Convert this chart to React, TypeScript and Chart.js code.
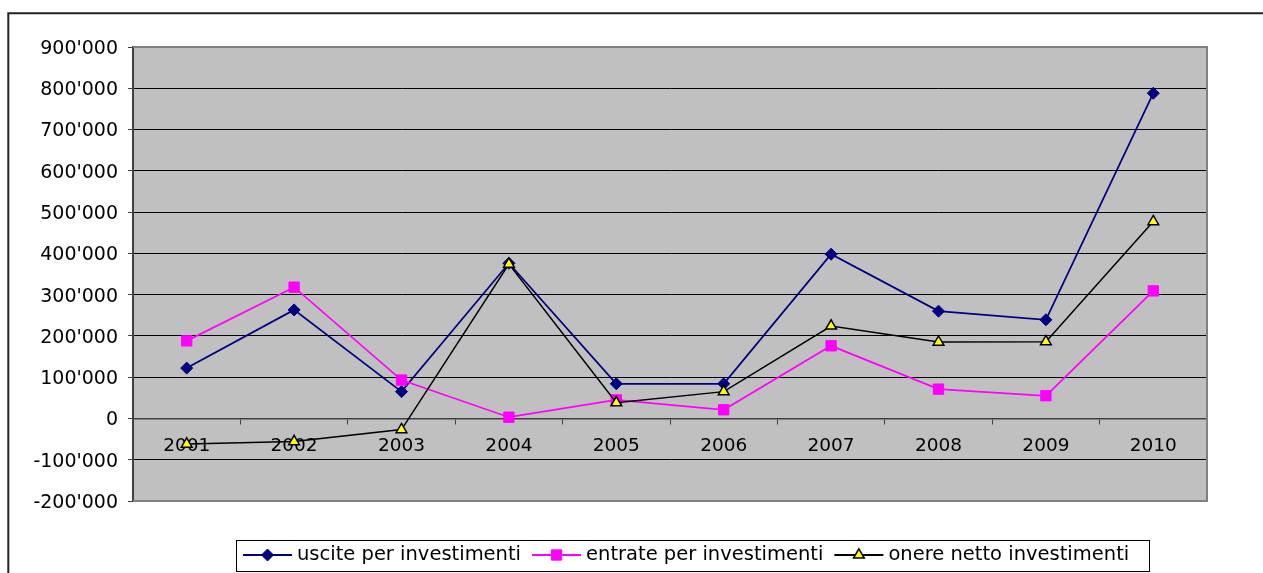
import React, { useEffect, useRef } from 'react';
import { Chart, registerables } from 'chart.js';

Chart.register(...registerables);

const years = ['2001', '2002', '2003', '2004', '2005', '2006', '2007', '2008', '2009', '2010'];
const usciteLabel = 'uscite per investimenti';
const entrateLabel = 'entrate per investimenti';
const onereLabel = 'onere netto investimenti';
const uscite = [122000, 263000, 65000, 376000, 84000, 84000, 398000, 260000, 239000, 788000];
const entrate = [188000, 318000, 93000, 3000, 45000, 21000, 176000, 71000, 55000, 309000];
const onere = [-62000, -56000, -27000, 374000, 38000, 65000, 224000, 185000, 186000, 477000];
const yMin = -200000;
const yMax = 900000;
const yStep = 100000;

const FONT = '"DejaVu Sans", Verdana, sans-serif';

function fmt(v: number): string {
  const s = Math.abs(v).toString().replace(/\B(?=(\d{3})+(?!\d))/g, "'");
  return v < 0 ? '-' + s : s;
}

function drawMarker(ctx: CanvasRenderingContext2D, style: string, x: number, y: number, r: number, fill: string, stroke: string, bw: number) {
  ctx.save();
  ctx.beginPath();
  if (style === 'rectRot') {
    ctx.moveTo(x, y - r);
    ctx.lineTo(x + r, y);
    ctx.lineTo(x, y + r);
    ctx.lineTo(x - r, y);
    ctx.closePath();
  } else if (style === 'rect') {
    const s = r * Math.SQRT1_2;
    ctx.rect(x - s, y - s, 2 * s, 2 * s);
  } else {
    const xo = Math.cos(Math.PI / 6) * r;
    const yo = Math.sin(Math.PI / 6) * r;
    ctx.moveTo(x, y - r);
    ctx.lineTo(x + xo, y + yo);
    ctx.lineTo(x - xo, y + yo);
    ctx.closePath();
  }
  ctx.fillStyle = fill;
  ctx.fill();
  ctx.lineWidth = bw;
  ctx.strokeStyle = stroke;
  ctx.stroke();
  ctx.restore();
}

export default function App() {
  const ref = useRef<HTMLCanvasElement>(null);

  useEffect(() => {
    const canvas = ref.current;
    if (!canvas) return;

    const framePlugin = {
      id: 'framePlugin',
      beforeDraw(chart: any) {
        const { ctx, chartArea: a } = chart;
        ctx.save();
        ctx.fillStyle = '#ffffff';
        ctx.fillRect(0, 0, chart.width, chart.height);
        ctx.fillStyle = '#C0C0C0';
        ctx.fillRect(a.left, a.top, a.right - a.left, a.bottom - a.top);
        ctx.strokeStyle = '#222222';
        ctx.lineWidth = 2;
        ctx.beginPath();
        ctx.moveTo(8.3, chart.height);
        ctx.lineTo(8.3, 13.3);
        ctx.lineTo(chart.width, 13.3);
        ctx.stroke();
        ctx.restore();
      },
      beforeDatasetsDraw(chart: any) {
        const { ctx, chartArea: a } = chart;
        ctx.save();
        ctx.strokeStyle = '#808080';
        ctx.lineWidth = 2;
        ctx.beginPath();
        ctx.moveTo(a.left, a.top);
        ctx.lineTo(a.right, a.top);
        ctx.lineTo(a.right, a.bottom);
        ctx.lineTo(a.left, a.bottom);
        ctx.stroke();
        ctx.restore();
      },
      afterDraw(chart: any) {
        const ctx: CanvasRenderingContext2D = chart.ctx;
        ctx.save();
        ctx.strokeStyle = '#000000';
        ctx.lineWidth = 1;
        ctx.strokeRect(236.5, 540.5, 913, 31);
        ctx.font = '19.5px ' + FONT;
        ctx.textBaseline = 'middle';
        ctx.textAlign = 'left';
        const cy = 555;
        let x = 243;
        chart.data.datasets.forEach((ds: any) => {
          ctx.strokeStyle = ds.borderColor;
          ctx.lineWidth = 2;
          ctx.beginPath();
          ctx.moveTo(x, cy);
          ctx.lineTo(x + 49, cy);
          ctx.stroke();
          drawMarker(ctx, ds.pointStyle, x + 24.5, cy, ds.pointRadius, ds.pointBackgroundColor, ds.pointBorderColor, ds.pointBorderWidth);
          ctx.fillStyle = '#000000';
          const tx = x + 54;
          ctx.fillText(ds.label, tx, cy);
          x = tx + ctx.measureText(ds.label).width + 11;
        });
        ctx.restore();
      },
    };

    const chart = new Chart(canvas, {
      type: 'line',
      data: {
        labels: years,
        datasets: [
          {
            label: usciteLabel,
            data: uscite,
            borderColor: '#000080',
            backgroundColor: '#000080',
            borderWidth: 1.75,
            pointStyle: 'rectRot',
            pointRadius: 6,
            pointBackgroundColor: '#000080',
            pointBorderColor: '#000080',
            pointBorderWidth: 1,
            tension: 0,
            order: 3,
          },
          {
            label: entrateLabel,
            data: entrate,
            borderColor: '#FF00FF',
            backgroundColor: '#FF00FF',
            borderWidth: 1.75,
            pointStyle: 'rect',
            pointRadius: 7.3,
            pointBackgroundColor: '#FF00FF',
            pointBorderColor: '#FF00FF',
            pointBorderWidth: 1,
            tension: 0,
            order: 2,
          },
          {
            label: onereLabel,
            data: onere,
            borderColor: '#000000',
            backgroundColor: '#FFFF00',
            borderWidth: 1.5,
            pointStyle: 'triangle',
            pointRadius: 6.2,
            pointBackgroundColor: '#FFFF00',
            pointBorderColor: '#000000',
            pointBorderWidth: 1.5,
            tension: 0,
            order: 1,
          },
        ] as any,
      },
      options: {
        animation: false,
        responsive: false,
        maintainAspectRatio: false,
        devicePixelRatio: 1,
        layout: { padding: { left: 0, top: 47, right: 56, bottom: 72 } },
        plugins: {
          legend: { display: false },
          tooltip: { enabled: false },
        },
        scales: {
          x: {
            type: 'category',
            position: { y: 0 } as any,
            offset: true,
            grid: {
              display: true,
              offset: true,
              drawOnChartArea: false,
              drawTicks: true,
              tickLength: 5,
              color: '#404040',
              lineWidth: 1,
            },
            border: { display: true, color: '#404040', width: 1.5 },
            ticks: {
              color: '#000000',
              font: { family: FONT, size: 18.5 },
              padding: 12,
              maxRotation: 0,
              autoSkip: false,
            },
          },
          y: {
            type: 'linear',
            min: yMin,
            max: yMax,
            afterFit(scale: any) {
              scale.width = 133;
            },
            grid: {
              color: '#000000',
              lineWidth: 1,
              drawTicks: true,
              tickLength: 5,
              tickColor: '#404040',
            },
            border: { display: true, color: '#404040', width: 2 },
            ticks: {
              stepSize: yStep,
              color: '#000000',
              font: { family: FONT, size: 19 },
              padding: 10,
              labelOffset: 2,
              callback: (v: any) => fmt(Number(v)),
            },
          },
        },
      },
      plugins: [framePlugin],
    });

    return () => chart.destroy();
  }, []);

  return (
    <div style={{ position: 'fixed', left: 0, top: 0, width: 1263, height: 573, background: '#fff' }}>
      <canvas ref={ref} width={1263} height={573} style={{ display: 'block', width: 1263, height: 573 }} />
    </div>
  );
}
